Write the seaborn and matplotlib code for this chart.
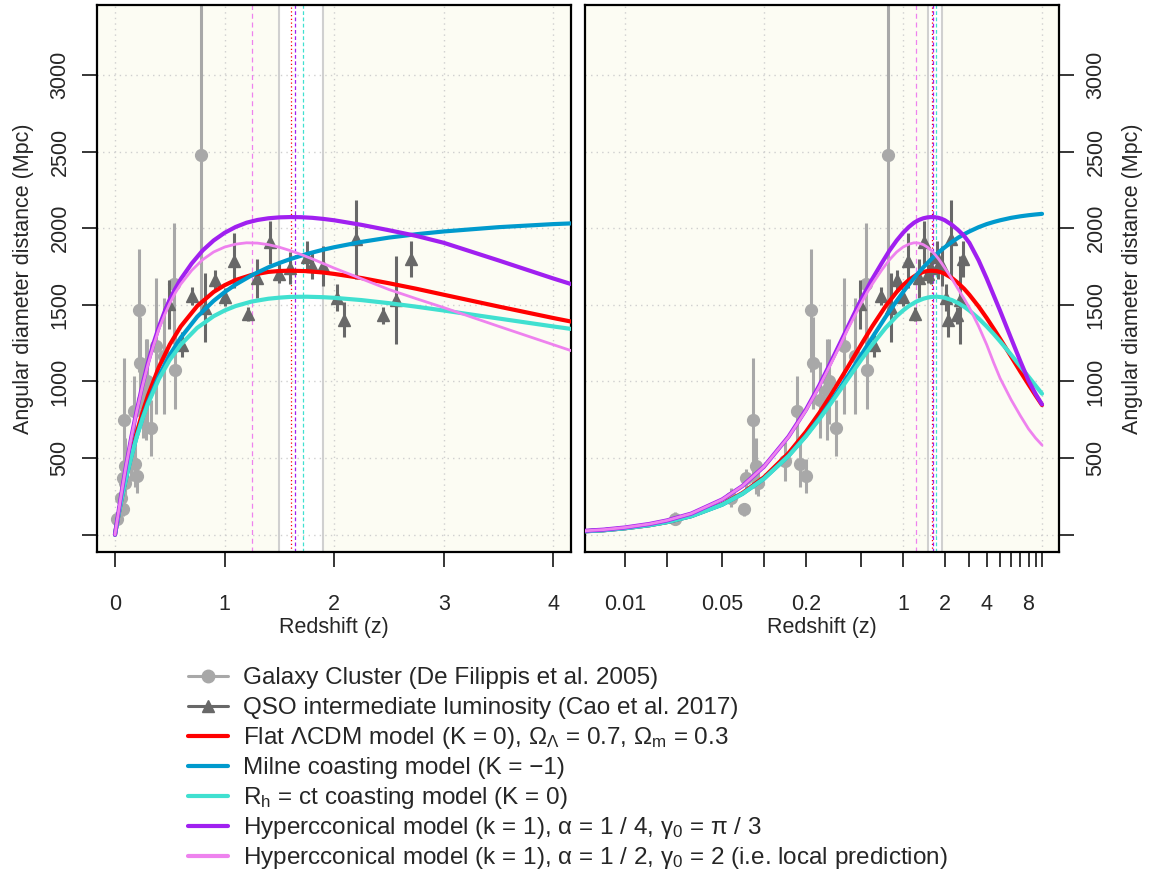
import numpy as np
import pandas as pd
import seaborn as sns
import matplotlib.pyplot as plt
from matplotlib.lines import Line2D

###------------------------------------------------------------------------------------------------------
# Model curves: redshift grid and angular diameter distance (Mpc)
z_model = [0, 0.004, 0.007, 0.01, 0.015, 0.02, 0.03, 0.05, 0.07, 0.1, 0.15, 0.2, 0.25, 0.3, 0.4,
           0.5, 0.6, 0.75, 0.9, 1.0, 1.1, 1.25, 1.4, 1.5, 1.6, 1.75, 1.9, 2.0, 2.25, 2.5, 2.75,
           3.0, 3.5, 4.0, 4.5, 5, 6, 7, 8, 9, 10]
da_lcdm = [0, 17, 29, 42, 62, 82, 122, 199, 272, 375, 532, 671, 795, 906, 1093,
           1241, 1359, 1492, 1584, 1628, 1662, 1696, 1715, 1721, 1723, 1720, 1711, 1702, 1675, 1641, 1605,
           1566, 1489, 1414, 1343, 1278, 1162, 1063, 980, 908, 846]
da_milne = [0, 17, 29, 42, 62, 82, 121, 196, 267, 366, 515, 645, 760, 862, 1034,
            1173, 1286, 1422, 1526, 1583, 1632, 1694, 1745, 1773, 1799, 1832, 1860, 1876, 1911, 1939, 1961,
            1979, 2007, 2027, 2041, 2052, 2068, 2078, 2085, 2090, 2094]
da_rhct = [0, 17, 29, 42, 62, 82, 121, 196, 267, 366, 513, 642, 754, 852, 1015,
           1141, 1240, 1350, 1426, 1463, 1492, 1522, 1540, 1547, 1552, 1553, 1550, 1546, 1531, 1511, 1488,
           1463, 1411, 1359, 1309, 1261, 1174, 1097, 1031, 972, 920]

# Hyperconical models, on a finer redshift grid
z_hyper = [0, 0.004, 0.007, 0.01, 0.015, 0.02, 0.03, 0.05, 0.07, 0.1, 0.15, 0.2, 0.25, 0.3, 0.35,
           0.4, 0.45, 0.5, 0.55, 0.6, 0.7, 0.8, 0.9, 1.0, 1.1, 1.2, 1.3, 1.4, 1.5, 1.6, 1.7, 1.8,
           1.9, 2.0, 2.25, 2.5, 2.75, 3.0, 3.5, 4.0, 4.5, 5, 6, 7, 8, 9, 10]
da_hyper_q = [0, 19, 33, 47, 70, 93, 138, 230, 318, 445, 640, 815, 975, 1120, 1245,
              1355, 1450, 1535, 1605, 1668, 1770, 1855, 1920, 1970, 2008, 2036, 2054, 2065, 2071, 2073, 2072, 2068,
              2061, 2052, 2022, 1987, 1950, 1905, 1790, 1672, 1560, 1460, 1280, 1130, 1005, 918, 850]
da_hyper_h = [0, 19, 33, 47, 70, 93, 138, 230, 318, 445, 638, 810, 967, 1108, 1230,
              1340, 1430, 1510, 1578, 1635, 1725, 1795, 1845, 1877, 1896, 1905, 1903, 1893, 1876, 1854, 1828, 1800,
              1770, 1740, 1670, 1600, 1540, 1482, 1360, 1240, 1120, 1020, 880, 775, 690, 630, 585]

# Galaxy clusters (De Filippis et al. 2005)
gc_z = [0.023, 0.058, 0.072, 0.074, 0.083, 0.088, 0.091, 0.142, 0.172, 0.182, 0.202, 0.217,
        0.224, 0.252, 0.285, 0.291, 0.327, 0.374, 0.451, 0.541, 0.550, 0.784]
gc_da = [103, 242, 165, 369, 750, 448, 335, 478, 808, 462, 385, 1465,
         1119, 880, 946, 1000, 697, 1231, 1166, 1637, 1073, 2479]
gc_err = [42, 61, 45, 62, 400, 185, 80, 126, 230, 150, 110, 400,
          300, 250, 330, 280, 183, 441, 380, 395, 250, 1023]

# QSO intermediate luminosity (Cao et al. 2017)
qso_z = [0.494, 0.615, 0.70, 0.82, 0.91, 1.0, 1.09, 1.218, 1.30, 1.416, 1.50, 1.60,
         1.75, 1.796, 1.897, 2.03, 2.09, 2.20, 2.45, 2.566, 2.70]
qso_da = [1505, 1240, 1558, 1480, 1663, 1550, 1788, 1440, 1672, 1908, 1704, 1740,
          1815, 1753, 1753, 1547, 1403, 1929, 1431, 1532, 1800]
qso_err = [160, 80, 60, 225, 65, 60, 180, 45, 125, 140, 60, 107,
           100, 85, 128, 90, 113, 258, 54, 290, 118]

# redshift of maximum distance for each model, and the observed band
z_peak = {'hyper_h': 1.25, 'lcdm': 1.605, 'hyper_q': 1.645, 'rhct': 1.718}
band = [1.5, 1.9]

models = [
    (z_model, da_lcdm, 'red', 3.0,
     r'Flat $\Lambda$CDM model (K = 0), $\Omega_\Lambda$ = 0.7, $\Omega_{\rm m}$ = 0.3'),
    (z_model, da_milne, '#009ACD', 3.0, 'Milne coasting model (K = \u22121)'),
    (z_model, da_rhct, 'turquoise', 3.0, r'R$_{\rm h}$ = ct coasting model (K = 0)'),
    (z_hyper, da_hyper_q, '#A020F0', 3.0,
     'Hypercconical model (k = 1), \u03b1 = 1 / 4, \u03b3$_0$ = \u03c0 / 3'),
    (z_hyper, da_hyper_h, 'violet', 2.0,
     'Hypercconical model (k = 1), \u03b1 = 1 / 2, \u03b3$_0$ = 2 (i.e. local prediction)'),
]

GC_COL = '#A8A8A8'
QSO_COL = '#686868'
BG = '#FCFCF3'
FS = 15.5
W, H = 1151, 871


def draw_panel(ax, log=False):
    ax.set_facecolor(BG)
    # observed band of the maximum
    ax.axvspan(band[0], band[1], color='white', zorder=0.5, lw=0)
    for b in band:
        ax.axvline(b, color='#D0D0D0', lw=1.5, zorder=0.6)
    ax.axvline(z_peak['hyper_h'], color='violet', lw=0.9, ls=(0, (4, 3)), zorder=0.7)
    ax.axvline(z_peak['lcdm'], color='red', lw=0.9, ls=(0, (1, 2)), zorder=0.7)
    ax.axvline(z_peak['hyper_q'], color='#A020F0', lw=0.9, ls=(0, (3, 2)), zorder=0.7)
    ax.axvline(z_peak['rhct'], color='turquoise', lw=0.9, ls=(0, (3, 2)), zorder=0.7)

    # data with error bars
    ax.errorbar(gc_z, gc_da, yerr=gc_err, fmt='o', color=GC_COL, ms=8.5, lw=2.2,
                capsize=0, zorder=2)
    ax.errorbar(qso_z, qso_da, yerr=qso_err, fmt='^', color=QSO_COL, ms=8.5, lw=2.2,
                capsize=0, zorder=2.1)

    # model curves
    for zz, da, col, lw, lab in models:
        df = pd.DataFrame({'z': zz, 'da': da})
        if log:
            df = df[df.z > 0]
        sns.lineplot(data=df, x='z', y='da', ax=ax, color=col, lw=lw, zorder=3,
                     estimator=None, sort=False)

    ax.set_ylim(-113, 3457)
    ax.set_yticks([0, 500, 1000, 1500, 2000, 2500, 3000])
    ax.set_yticklabels(['', '500', '1000', '1500', '2000', '2500', '3000'],
                       rotation=90, va='center')
    ax.grid(True, color='#CFCFCF', ls=(0, (1, 3)), lw=1)
    ax.set_xlabel('Redshift (z)', fontsize=FS, labelpad=2)
    ax.set_ylabel('Angular diameter distance (Mpc)', fontsize=FS, labelpad=11)
    for s in ax.spines.values():
        s.set_color('black')
        s.set_linewidth(1.6)
    ax.tick_params(axis='both', length=11, width=1.1, color='black', labelsize=FS,
                   direction='out', bottom=True, left=True)
    ax.tick_params(axis='x', pad=19)
    ax.tick_params(axis='y', pad=8)


sns.set_theme(style='white')
plt.rcParams['font.family'] = ['Liberation Sans', 'DejaVu Sans']
plt.rcParams['mathtext.fontset'] = 'custom'
plt.rcParams['mathtext.rm'] = 'Liberation Sans'
plt.rcParams['mathtext.it'] = 'Liberation Sans:italic'
plt.rcParams['mathtext.sf'] = 'Liberation Sans'

fig = plt.figure(figsize=(W / 100, H / 100), dpi=100)
ax1 = fig.add_axes([97 / W, 1 - 552 / H, 474 / W, 547 / H])
ax2 = fig.add_axes([585 / W, 1 - 552 / H, 474 / W, 547 / H])

# left: linear redshift
draw_panel(ax1)
ax1.set_xlim(-0.164, 4.161)
ax1.set_xticks([0, 1, 2, 3, 4])
ax1.set_xticklabels(['0', '1', '2', '3', '4'])

# right: log redshift
draw_panel(ax2, log=True)
ax2.set_xscale('log')
ax2.set_xlim(0.00515, 13.25)
xt = [0.01, 0.02, 0.05, 0.1, 0.2, 0.5, 1, 2, 3, 4, 5, 6, 7, 8, 9, 10]
shown = {0.01: '0.01', 0.05: '0.05', 0.2: '0.2', 1: '1', 2: '2', 4: '4', 8: '8'}
ax2.set_xticks(xt)
ax2.set_xticklabels([shown.get(t, '') for t in xt])
ax2.minorticks_off()
ax2.xaxis.grid(False)
for g in [0.01, 0.1, 1, 10]:
    ax2.axvline(g, color='#CFCFCF', ls=(0, (1, 3)), lw=1, zorder=0.8)
ax2.yaxis.tick_right()
ax2.yaxis.set_label_position('right')
ax2.tick_params(axis='y', left=False, right=True)

# legend below the panels, one row every 30 px
leg_rows = [(GC_COL, 2.2, 'o', 'Galaxy Cluster (De Filippis et al. 2005)'),
            (QSO_COL, 2.2, '^', 'QSO intermediate luminosity (Cao et al. 2017)')]
leg_rows += [(m[2], 3.0, None, m[4]) for m in models]
for i, (col, lw, mk, lab) in enumerate(leg_rows):
    yc = 1 - (676 + 30 * i) / H
    fig.add_artist(Line2D([188 / W, 228 / W], [yc, yc], transform=fig.transFigure,
                          color=col, lw=lw))
    if mk:
        fig.add_artist(Line2D([208 / W], [yc], transform=fig.transFigure, color=col,
                              marker=mk, ms=9, lw=0))
    fig.text(243 / W, yc - 8 / H, lab, fontsize=17.5, va='baseline', ha='left')

fig.savefig('out.png', dpi=100, facecolor='white')
